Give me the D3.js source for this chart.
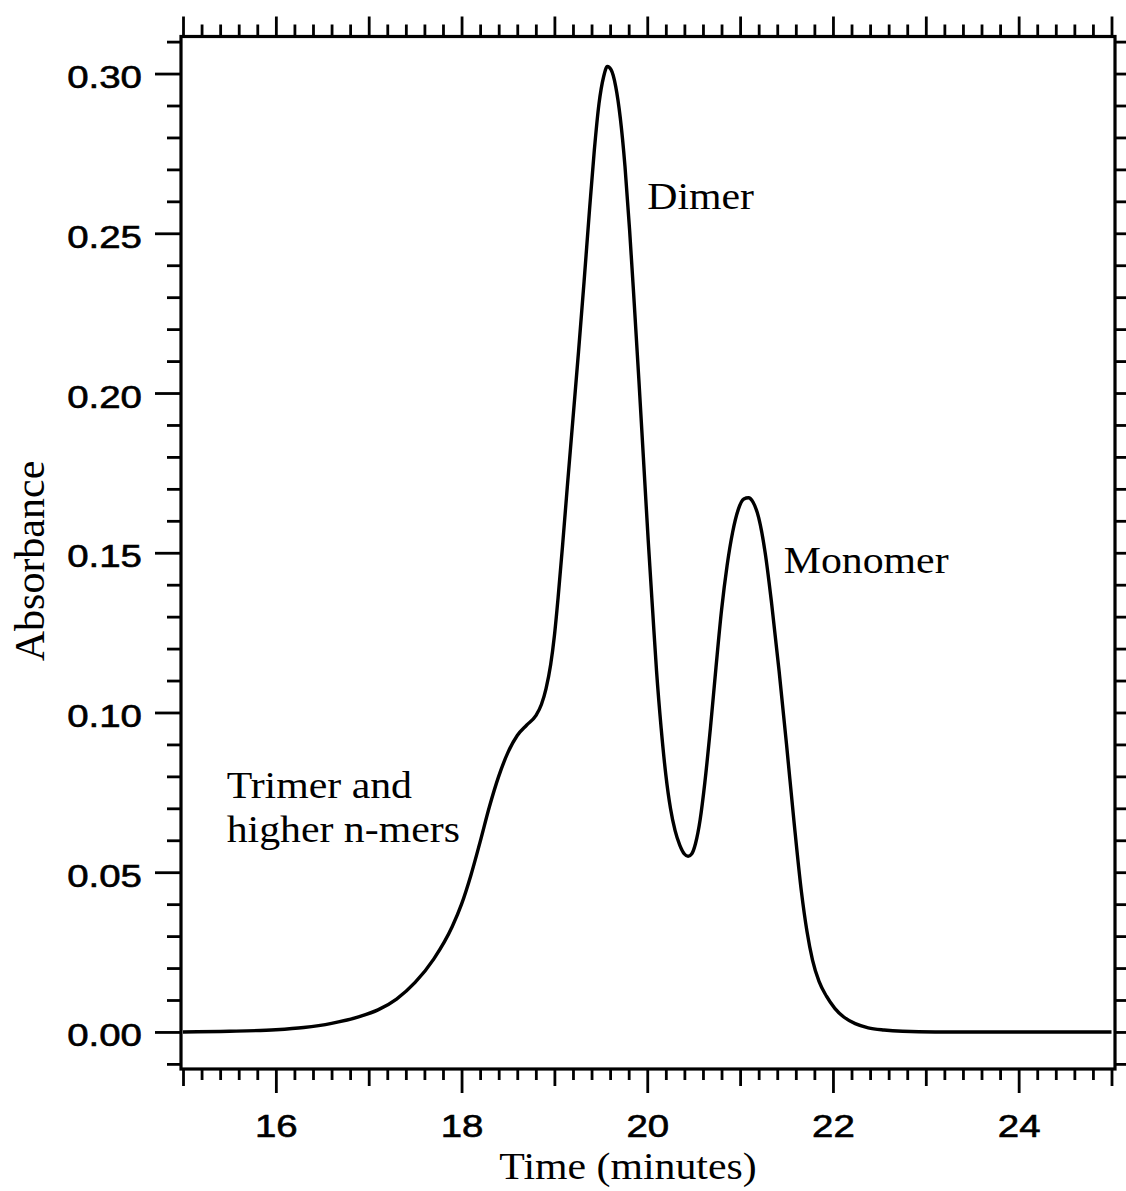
<!DOCTYPE html>
<html>
<head>
<meta charset="utf-8">
<script src="https://cdn.jsdelivr.net/npm/d3@7"></script>
<style>
  body { margin: 0; background: #fff; }
  svg { display: block; }
</style>
</head>
<body>
<svg id="chart" width="1126" height="1191"></svg>
<script>
// elution profile (minutes, absorbance)
const time = [15.00, 15.50, 16.00, 16.30, 16.60, 16.90, 17.10, 17.30, 17.50, 17.70, 17.90, 18.00,
  18.10, 18.20, 18.30, 18.40, 18.50, 18.60, 18.70, 18.80, 18.86, 18.91, 18.96, 19.00, 19.04,
  19.09, 19.14, 19.20, 19.26, 19.32, 19.38, 19.43, 19.48, 19.53, 19.57, 19.61, 19.66, 19.71,
  19.76, 19.81, 19.86, 19.91, 19.96, 20.01, 20.06, 20.10, 20.15, 20.20, 20.25, 20.30, 20.35,
  20.40, 20.44, 20.48, 20.52, 20.57, 20.62, 20.68, 20.74, 20.80, 20.86, 20.92, 20.98, 21.04,
  21.09, 21.14, 21.20, 21.27, 21.34, 21.42, 21.50, 21.58, 21.66, 21.72, 21.78, 21.85, 21.93,
  22.02, 22.12, 22.24, 22.38, 22.55, 22.75, 23.10, 23.60, 25.00]
const absorbance = [0.0000, 0.0002, 0.0007, 0.0014, 0.0027, 0.0048, 0.0069, 0.0103, 0.0155, 0.0228, 0.0330, 0.0400,
  0.0490, 0.0595, 0.0705, 0.0800, 0.0875, 0.0928, 0.0960, 0.0990, 0.1025, 0.1075, 0.1150, 0.1240, 0.1360,
  0.1530, 0.1710, 0.1920, 0.2130, 0.2350, 0.2580, 0.2760, 0.2905, 0.2990, 0.3022, 0.3012, 0.2960, 0.2860,
  0.2710, 0.2510, 0.2280, 0.2040, 0.1790, 0.1540, 0.1310, 0.1130, 0.0950, 0.0805, 0.0700, 0.0630, 0.0585,
  0.0557, 0.0550, 0.0558, 0.0590, 0.0665, 0.0780, 0.0950, 0.1140, 0.1320, 0.1460, 0.1565, 0.1635, 0.1668,
  0.1672, 0.1658, 0.1610, 0.1500, 0.1340, 0.1130, 0.0900, 0.0660, 0.0440, 0.0315, 0.0225, 0.0158, 0.0112,
  0.0074, 0.0046, 0.0026, 0.0013, 0.0006, 0.0002, 0.0000, 0.0000, 0.0000]

const yLabelTicks = [0.00, 0.05, 0.10, 0.15, 0.20, 0.25, 0.30]
const xLabelTicks = [16, 18, 20, 22, 24]

// peak annotations: text lines, anchor time / absorbance
const notes = [
  { lines: ['Dimer'], t: 20.0, a: 0.2576 },
  { lines: ['Monomer'], t: 21.47, a: 0.1437 },
  { lines: ['Trimer and'], t: 15.47, a: 0.0731 },
  { lines: ['higher n-mers'], t: 15.47, a: 0.0596 }
]

const svg = d3.select('#chart')
const frame = { left: 181, right: 1115, top: 36.5, bottom: 1069 }
const sansFont = '"Liberation Sans", Arial, Helvetica, sans-serif'
const serifFont = '"Liberation Serif", "Times New Roman", Times, serif'

const xScale = d3.scaleLinear().domain([15, 25]).range([183, 1111.5])
const yScale = d3.scaleLinear().domain([-0.0116, 0.3116]).range([frame.bottom, frame.top])

// minor ticks every 0.2 min and every 0.01 absorbance
const xTicks = d3.range(0, 51).map(i => 15 + i / 5)
const yTicks = d3.range(-1, 32).map(i => i / 100)
const isInt = d => Math.abs(d - Math.round(d)) < 1e-6
const isEven = d => isInt(d) && Math.round(d) % 2 === 0
const isYMajor = d => Math.abs(d * 20 - Math.round(d * 20)) < 1e-6

function styleTicks(g) {
  g.select('.domain').remove()
  g.selectAll('.tick line').attr('stroke', '#000').attr('stroke-width', 2.8)
}

function styleLabels(sel) {
  sel.attr('font-family', sansFont).attr('font-size', 31)
    .attr('fill', '#000').attr('stroke', '#000').attr('stroke-width', 0.6)
}

// bottom
const xBottom = svg.append('g')
  .attr('transform', `translate(0,${frame.bottom})`)
  .call(d3.axisBottom(xScale).tickValues(xTicks).tickFormat(''))
  .call(styleTicks)
xBottom.selectAll('.tick line').attr('y2', d => isEven(d) ? 24 : isInt(d) ? 17 : 11)

svg.append('g')
  .attr('transform', `translate(0,${frame.bottom})`)
  .call(d3.axisBottom(xScale).tickValues(xLabelTicks).tickSize(0).tickFormat(d3.format('d')))
  .call(g => g.select('.domain').remove())
  .selectAll('.tick text')
  .attr('y', null).attr('dy', null)
  .attr('transform', 'translate(0,68) scale(1.24,1)')
  .call(styleLabels)

// top
const xTop = svg.append('g')
  .attr('transform', `translate(0,${frame.top})`)
  .call(d3.axisTop(xScale).tickValues(xTicks).tickFormat(''))
  .call(styleTicks)
xTop.selectAll('.tick line').attr('y2', d => isInt(d) ? -20 : -12)

// left
const yLeft = svg.append('g')
  .attr('transform', `translate(${frame.left},0)`)
  .call(d3.axisLeft(yScale).tickValues(yTicks).tickFormat(''))
  .call(styleTicks)
yLeft.selectAll('.tick line').attr('x2', d => isYMajor(d) ? -26 : -14)

svg.append('g')
  .attr('transform', `translate(${frame.left},0)`)
  .call(d3.axisLeft(yScale).tickValues(yLabelTicks).tickSize(0).tickFormat(d3.format('.2f')))
  .call(g => g.select('.domain').remove())
  .selectAll('.tick text')
  .attr('x', null).attr('dy', null)
  .attr('text-anchor', 'end')
  .attr('transform', 'translate(-39,14) scale(1.24,1)')
  .call(styleLabels)

// right
const yRight = svg.append('g')
  .attr('transform', `translate(${frame.right},0)`)
  .call(d3.axisRight(yScale).tickValues(yTicks).tickFormat(''))
  .call(styleTicks)
yRight.selectAll('.tick line').attr('x2', d => isYMajor(d) ? 26 : 14)

// frame
svg.append('rect')
  .attr('x', frame.left).attr('y', frame.top)
  .attr('width', frame.right - frame.left).attr('height', frame.bottom - frame.top)
  .attr('fill', 'none').attr('stroke', '#000').attr('stroke-width', 3.2)

// trace
const points = time.map((t, i) => [t, absorbance[i]])
const line = d3.line()
  .x(d => xScale(d[0]))
  .y(d => yScale(d[1]))
  .curve(d3.curveMonotoneX)

svg.append('path')
  .datum(points)
  .attr('d', line)
  .attr('fill', 'none')
  .attr('stroke', '#000')
  .attr('stroke-width', 3.4)
  .attr('stroke-linejoin', 'round')

// annotations
notes.forEach(n => {
  svg.append('text')
    .attr('transform', `translate(${xScale(n.t)},${yScale(n.a)}) scale(1.1,1)`)
    .attr('font-family', serifFont).attr('font-size', 38).attr('fill', '#000')
    .text(n.lines[0])
})

// axis titles
svg.append('text')
  .attr('transform', `translate(${(frame.left + frame.right) / 2 - 20},1179) scale(1.1,1)`)
  .attr('text-anchor', 'middle')
  .attr('font-family', serifFont).attr('font-size', 38).attr('fill', '#000')
  .text('Time (minutes)')

svg.append('text')
  .attr('transform', 'translate(44,561) rotate(-90)')
  .attr('text-anchor', 'middle')
  .attr('font-family', serifFont).attr('font-size', 42).attr('fill', '#000')
  .text('Absorbance')
</script>
</body>
</html>
